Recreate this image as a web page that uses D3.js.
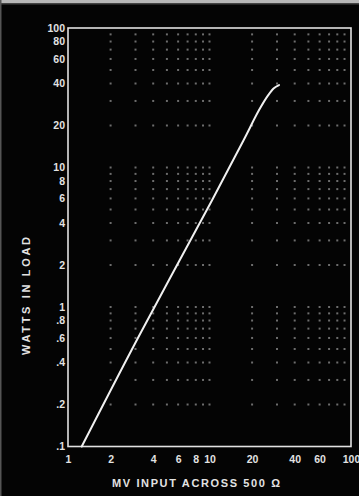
<!DOCTYPE html>
<html><head><meta charset="utf-8">
<script src="https://cdn.jsdelivr.net/npm/d3@7"></script>
<style>html,body{margin:0;padding:0;background:#040404;}svg{display:block}</style>
</head><body><svg id="c" width="359" height="496"></svg>
<script>
// Data
const inputMV   = [1.25, 3.12, 10.4, 17.3, 22.5, 26.0, 28.5, 31.0];
const wattsLoad = [0.1, 0.6, 5.8, 15.5, 26.0, 33.0, 37.0, 39.0];
const xTickLabels = [1, 2, 4, 6, 8, 10, 20, 40, 60, 100];
const yTickLabels = [100, 80, 60, 40, 20, 10, 8, 6, 4, 2, 1, 0.8, 0.6, 0.4, 0.2, 0.1];
const xGrid = [2, 3, 4, 5, 6, 7, 8, 9, 10, 20, 30, 40, 50, 60, 70, 80, 90];
const yGrid = [0.2, 0.3, 0.4, 0.5, 0.6, 0.7, 0.8, 0.9, 1, 2, 3, 4, 5, 6, 7, 8, 9, 10, 20, 30, 40, 50, 60, 70, 80, 90];
const xTitle = "MV  INPUT  ACROSS  500 \u03A9";
const yTitle = "WATTS  IN  LOAD";

const svg = d3.select("#c");
const W = 359, H = 496;
const L = 68, R = 351, T = 28, B = 446.5;
const ink = "#e2e2e2";

svg.append("rect").attr("width", W).attr("height", H).attr("fill", "#040404");
// scan edges
svg.append("rect").attr("x", 0).attr("y", 0).attr("width", W).attr("height", 3).attr("fill", "#b8b8b8");
svg.append("rect").attr("x", 0).attr("y", 3).attr("width", W).attr("height", 1.5).attr("fill", "#444");
svg.append("rect").attr("x", 0).attr("y", 0).attr("width", 1.5).attr("height", H).attr("fill", "#555");

const x = d3.scaleLog().domain([1, 100]).range([L, R]);
const y = d3.scaleLog().domain([0.1, 100]).range([B, T]);

// dotted grid: dots at intersections
const pts = [];
xGrid.forEach(gx => yGrid.forEach(gy => pts.push([gx, gy])));
svg.append("g").selectAll("rect").data(pts).join("rect")
  .attr("x", d => x(d[0]) - 1).attr("y", d => y(d[1]) - 1)
  .attr("width", 2).attr("height", 2)
  .attr("fill", "#9a9a9a").attr("opacity", 0.7);

// frame
svg.append("rect").attr("x", L).attr("y", T).attr("width", R - L).attr("height", B - T)
  .attr("fill", "none").attr("stroke", ink).attr("stroke-width", 1.6);

// line
const line = d3.line().x((d, i) => x(inputMV[i])).y((d, i) => y(wattsLoad[i])).curve(d3.curveCatmullRom.alpha(0.5));
svg.append("path").datum(wattsLoad).attr("d", line)
  .attr("fill", "none").attr("stroke", "#f0f0f0").attr("stroke-width", 2).attr("stroke-linecap", "round");

const fmt = v => v < 1 ? String(v).replace(/^0/, "") : String(v);
const font = "'Liberation Sans', Arial, sans-serif";

// y tick labels
const yAxis = d3.axisLeft(y).tickValues(yTickLabels).tickFormat(fmt).tickSize(0).tickPadding(3);
const gy = svg.append("g").attr("transform", `translate(${L},0)`).call(yAxis);
gy.select(".domain").remove();
gy.selectAll("text").attr("fill", ink).attr("font-family", font).attr("font-size", 10.5).attr("font-weight", "bold");

// x tick labels
const xAxis = d3.axisBottom(x).tickValues(xTickLabels).tickFormat(fmt).tickSize(0).tickPadding(9);
const gx = svg.append("g").attr("transform", `translate(0,${B})`).call(xAxis);
gx.select(".domain").remove();
gx.selectAll("text").attr("fill", ink).attr("font-family", font).attr("font-size", 10.5).attr("font-weight", "bold");

// titles
svg.append("text").attr("x", 196).attr("y", 487).attr("text-anchor", "middle")
  .attr("fill", ink).attr("font-family", font).attr("font-size", 11).attr("font-weight", "bold")
  .attr("textLength", 168).attr("lengthAdjust", "spacing").text(xTitle);
svg.append("text").attr("transform", "translate(30,296) rotate(-90)").attr("text-anchor", "middle")
  .attr("fill", ink).attr("font-family", font).attr("font-size", 11).attr("font-weight", "bold")
  .attr("textLength", 118).attr("lengthAdjust", "spacing").text(yTitle);
</script></body></html>
